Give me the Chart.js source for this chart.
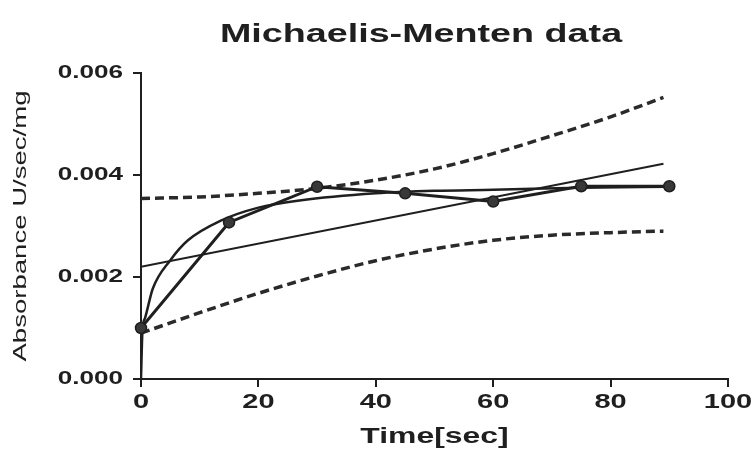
<!DOCTYPE html>
<html>
<head>
<meta charset="utf-8">
<script src="https://cdn.jsdelivr.net/npm/chart.js@4.4.1/dist/chart.umd.min.js"></script>
<style>
  html, body { margin: 0; padding: 0; background: #fff; }
  #mmChart { display: block; }
</style>
</head>
<body>
<canvas id="mmChart" width="754" height="454"></canvas>
<script>
// ── Chart data ─────────────────────────────────────────────
const timeSec    = [0, 15, 30, 45, 60, 75, 90];
const absorbance = [0.00100, 0.00307, 0.00377, 0.00364, 0.00348, 0.00378, 0.00378];

// Michaelis-Menten fit curve
const fitTime = [0, 0.25, 0.7, 2, 5, 8, 13.5, 20, 27, 40, 50, 60, 75, 90];
const fitAbs  = [0, 0.00095, 0.00120, 0.00177, 0.00233, 0.00272, 0.00310, 0.00336,
                 0.00350, 0.00364, 0.00369, 0.00371, 0.00375, 0.00377];

// straight line fit
const lineTime = [0, 89];
const lineAbs  = [0.00220, 0.00422];

// dashed bands
const bandTime  = [0, 10, 20, 30, 40, 50, 60, 70, 80, 89];
const upperBand = [0.00354, 0.00357, 0.00364, 0.00374, 0.00390, 0.00412, 0.00442, 0.00477, 0.00514, 0.00552];
const lowerBand = [0.00090, 0.00130, 0.00168, 0.00202, 0.00232, 0.00255, 0.00272, 0.00282, 0.00287, 0.00290];

const xTicks = [0, 20, 40, 60, 80, 100];
const yTicks = [0, 0.002, 0.004, 0.006];

const INK = '#1f1f1f';
const TEXT_STRETCH = 1.45; // reference text is drawn wide

const pts = (xs, ys) => xs.map((x, i) => ({ x: x, y: ys[i] }));

// ── Wide text: stretch every glyph run along its own direction ──
const canvas = document.getElementById('mmChart');
const ctx = canvas.getContext('2d');
const plainFill = ctx.fillText;
ctx.fillText = function (text, x, y) {
  this.save();
  this.translate(x, y);
  this.scale(TEXT_STRETCH, 1);
  plainFill.call(this, text, 0, 0);
  this.restore();
};

// ── Title drawn over the plot ──────────────────────────────
const titlePlugin = {
  id: 'mmTitle',
  afterDraw(chart) {
    const c = chart.ctx;
    c.save();
    c.font = 'bold 26px "Liberation Sans", Arial, sans-serif';
    c.fillStyle = INK;
    c.textAlign = 'center';
    c.textBaseline = 'middle';
    c.fillText('Michaelis-Menten data', 421, 35);
    c.restore();
  }
};

const axisCommon = {
  grid: { display: true, drawOnChartArea: false, drawTicks: true, tickLength: 8, color: INK, lineWidth: 2 },
  border: { display: true, color: INK, width: 2 }
};

new Chart(ctx, {
  type: 'line',
  data: {
    datasets: [
      {
        label: 'data',
        data: pts(timeSec, absorbance),
        borderColor: INK,
        borderWidth: 3,
        pointRadius: 5.5,
        pointBorderWidth: 1.5,
        pointBackgroundColor: '#383838',
        pointBorderColor: INK,
        tension: 0,
        clip: false
      },
      {
        label: 'Michaelis-Menten fit',
        data: pts(fitTime, fitAbs),
        borderColor: INK,
        borderWidth: 2.5,
        pointRadius: 0,
        cubicInterpolationMode: 'monotone'
      },
      {
        label: 'linear fit',
        data: pts(lineTime, lineAbs),
        borderColor: INK,
        borderWidth: 2,
        pointRadius: 0
      },
      {
        label: 'upper',
        data: pts(bandTime, upperBand),
        borderColor: '#2a2a2a',
        borderWidth: 3.5,
        borderDash: [9, 5],
        pointRadius: 0,
        cubicInterpolationMode: 'monotone'
      },
      {
        label: 'lower',
        data: pts(bandTime, lowerBand),
        borderColor: '#2a2a2a',
        borderWidth: 3.5,
        borderDash: [9, 5],
        pointRadius: 0,
        cubicInterpolationMode: 'monotone'
      }
    ]
  },
  options: {
    responsive: false,
    animation: false,
    layout: { padding: { left: 4, right: 26, top: 73, bottom: 0 } },
    plugins: {
      legend: { display: false },
      tooltip: { enabled: false },
      title: { display: false }
    },
    scales: {
      x: {
        ...axisCommon,
        type: 'linear',
        min: 0,
        max: 100,
        afterBuildTicks: s => { s.ticks = xTicks.map(v => ({ value: v })); },
        afterFit: s => { s.height = 75; },
        ticks: {
          padding: 3,
          color: INK,
          font: { family: '"Liberation Sans", Arial, sans-serif', size: 20, weight: 'bold' }
        },
        title: {
          display: true,
          text: 'Time[sec]',
          color: INK,
          padding: { top: 0, bottom: 4 },
          font: { family: '"Liberation Sans", Arial, sans-serif', size: 22, weight: 'bold' }
        }
      },
      y: {
        ...axisCommon,
        min: 0,
        max: 0.006,
        afterBuildTicks: s => { s.ticks = yTicks.map(v => ({ value: v })); },
        afterFit: s => { s.width = 137; },
        ticks: {
          padding: 10,
          color: INK,
          callback: v => Number(v).toFixed(3),
          font: { family: '"Liberation Sans", Arial, sans-serif', size: 18, weight: 'bold' }
        },
        title: {
          display: true,
          text: 'Absorbance U/sec/mg',
          color: INK,
          padding: { top: 5, bottom: 0 },
          font: { family: '"Liberation Sans", Arial, sans-serif', size: 19 }
        }
      }
    }
  },
  plugins: [titlePlugin]
});
</script>
</body>
</html>
